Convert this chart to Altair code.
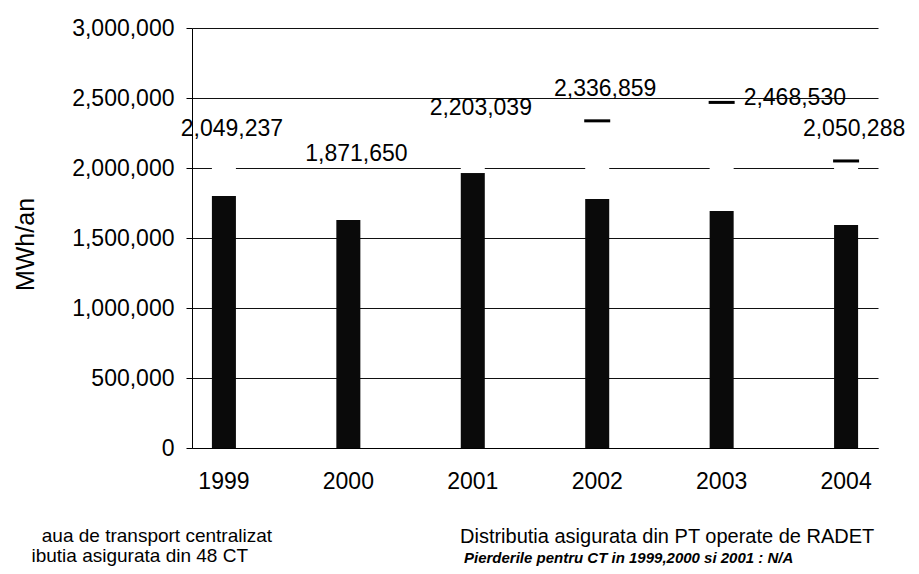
import altair as alt
import pandas as pd

years = ["1999", "2000", "2001", "2002", "2003", "2004"]
totals = [2049237, 1871650, 2203039, 2336859, 2468530, 2050288]
distributed = [1800000, 1629000, 1964000, 1779000, 1693000, 1593000]
loss_years = ["2002", "2003", "2004"]
y_ticks = [0, 500000, 1000000, 1500000, 2000000, 2500000, 3000000]

legend_left_1 = "aua de transport centralizat"
legend_left_2 = "ibutia asigurata din 48 CT"
legend_right_1 = "Distributia asigurata din PT operate de RADET"
legend_right_2 = "Pierderile pentru CT in 1999,2000 si 2001 : N/A"

FONT = "Liberation Sans, Arial, sans-serif"

df = pd.DataFrame({
    "year": years,
    "total": totals,
    "distributed": distributed,
    "has_loss": [y in loss_years for y in years],
    "label": [f"{t:,}" for t in totals],
})

xaxis = alt.Axis(
    title=None, labelAngle=0, labelFont=FONT, labelFontSize=23,
    labelColor="#000", ticks=False, labelPadding=22,
    domainColor="#000", domainWidth=1, grid=False,
)
yaxis = alt.Axis(
    values=y_ticks, format=",.0f", title="MWh/an",
    titleFont=FONT, titleFontSize=25, titleFontWeight="normal",
    titleColor="#000", titleX=-167, titleY=216, titleAngle=270,
    titleAlign="center", titleBaseline="middle",
    labelFont=FONT, labelFontSize=23, labelColor="#000",
    labelPadding=12, tickSize=6, tickColor="#000",
    domainColor="#000", grid=True, gridColor="#111", gridWidth=1,
    gridOpacity=1,
)
xscale = alt.Scale(paddingInner=0.807, paddingOuter=0.16)
yscale = alt.Scale(domain=[0, 3000000], nice=False)


def X():
    return alt.X("year:N", sort=years, scale=xscale, axis=xaxis)


def Y(field):
    return alt.Y(field, scale=yscale, axis=yaxis)


base = alt.Chart(df)

bars = base.mark_bar(color="#0a0a0a").encode(x=X(), y=Y("distributed:Q"))

white = base.mark_bar(color="white").encode(
    x=X(), y=Y("distributed:Q"), y2="total:Q"
)

dashes = base.transform_filter("datum.has_loss").mark_tick(
    color="#000", thickness=3, size=26, opacity=1
).encode(x=X(), y=Y("total:Q"))

labels_above = base.transform_filter("datum.year != '2003'").mark_text(
    font=FONT, fontSize=23, color="#000", dy=-32, dx=8, baseline="middle"
).encode(x=X(), y=Y("total:Q"), text="label:N")

labels_right = base.transform_filter("datum.year == '2003'").mark_text(
    font=FONT, fontSize=23, color="#000", dy=-4, dx=22, align="left",
    baseline="middle"
).encode(x=X(), y=Y("total:Q"), text="label:N")

notes_df = pd.DataFrame({"k": [0]})
notes = alt.Chart(notes_df)
n1 = notes.mark_text(font=FONT, fontSize=19, color="#000", align="right",
                     baseline="alphabetic").encode(
    x=alt.value(80), y=alt.value(514), text=alt.value(legend_left_1))
n2 = notes.mark_text(font=FONT, fontSize=19, color="#000", align="right",
                     baseline="alphabetic").encode(
    x=alt.value(56), y=alt.value(534), text=alt.value(legend_left_2))
n3 = notes.mark_text(font=FONT, fontSize=20, color="#000", align="left",
                     baseline="alphabetic").encode(
    x=alt.value(268), y=alt.value(515), text=alt.value(legend_right_1))
n4 = notes.mark_text(font=FONT, fontSize=15, fontStyle="italic",
                     fontWeight="bold", color="#000", align="left",
                     baseline="alphabetic").encode(
    x=alt.value(272), y=alt.value(535), text=alt.value(legend_right_2))

chart = alt.layer(
    bars, white, dashes, labels_above, labels_right, n1, n2, n3, n4
).properties(
    width=686, height=420,
    autosize=alt.AutoSizeParams(type="none"),
    padding={"left": 184, "top": 20, "right": 33, "bottom": 118},
    background="white",
).configure_view(stroke=None)

chart.save("out.html", embed_options={"renderer": "svg", "actions": False})
